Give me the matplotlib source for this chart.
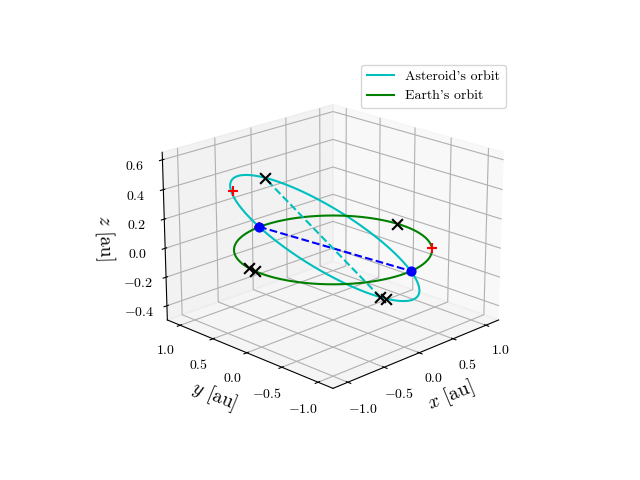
import numpy as np
import matplotlib
matplotlib.use("Agg")
import matplotlib.pyplot as plt

plt.rcParams["font.family"] = "cmr10"
plt.rcParams["mathtext.fontset"] = "cm"
plt.rcParams["axes.formatter.use_mathtext"] = True

# orbital elements of the asteroid (estimated)
a_ast = 1.02
e_ast = 0.14
inc_deg = 33.0
node_deg = 95.0
peri_deg = -92.0
earth_r = 1.0
# argument of latitude (deg) of extra marked asteroid positions
ast_x_u = [263.0]
# Earth longitudes (deg) of black-x positions
earth_x_lon = [3.0, 169.0, 175.0]
# Earth longitude (deg) of red-plus position
earth_plus_lon = [-45.0]
# free red-plus point (x, y, z) in au
extra_plus_x = [-0.8]
extra_plus_y = [0.6]
extra_plus_z = [0.42]

def orbit_pos_u(u, a, e, i, Om, w):
    nu = u - w
    r = a*(1-e**2)/(1+e*np.cos(nu))
    x = r*(np.cos(Om)*np.cos(u) - np.sin(Om)*np.sin(u)*np.cos(i))
    y = r*(np.sin(Om)*np.cos(u) + np.cos(Om)*np.sin(u)*np.cos(i))
    z = r*np.sin(u)*np.sin(i)
    return x, y, z

i = np.radians(inc_deg); Om = np.radians(node_deg); w = np.radians(peri_deg)
pos = lambda u: orbit_pos_u(np.radians(np.asarray(u, float)), a_ast, e_ast, i, Om, w)
ax_, ay_, az_ = pos(np.linspace(0, 360, 400))
th = np.radians(np.linspace(0, 360, 400))
ex, ey, ez = earth_r*np.cos(th), earth_r*np.sin(th), 0*th

fig = plt.figure(figsize=(6.4, 4.8))
ax = fig.add_subplot(projection="3d")
ax.plot(ax_, ay_, az_, color="c", label="Asteroid's orbit")
ax.plot(ex, ey, ez, color="g", label="Earth's orbit")
nx, ny, nz = pos([0, 180])
ax.plot(nx, ny, nz, "b--")
ax.scatter(nx, ny, nz, color="b", s=40, depthshade=False)
ax.scatter(nx[:1], ny[:1], nz[:1], color="r", marker="+", s=60, depthshade=False)
wd = np.degrees(w)
px, py, pz = pos([wd, wd + 180])
ax.plot(px, py, pz, "c--")
ax.scatter(px, py, pz, color="k", marker="x", s=60, depthshade=False)
kx, ky, kz = pos(ast_x_u)
ax.scatter(kx, ky, kz, color="k", marker="x", s=60, depthshade=False)
el = np.radians(earth_x_lon)
ax.scatter(earth_r*np.cos(el), earth_r*np.sin(el), 0*el, color="k", marker="x", s=60, depthshade=False)
pl = np.radians(earth_plus_lon)
ax.scatter(earth_r*np.cos(pl), earth_r*np.sin(pl), 0*pl, color="r", marker="+", s=60, depthshade=False)
ax.scatter(extra_plus_x, extra_plus_y, extra_plus_z, color="r", marker="+", s=60, depthshade=False)

ax.set_xlim(-1.2, 1.2); ax.set_ylim(-1.2, 1.2); ax.set_zlim(-0.5, 0.65)
ax.set_xticks([-1.0, -0.5, 0.0, 0.5, 1.0])
ax.set_yticks([-1.0, -0.5, 0.0, 0.5, 1.0])
ax.set_zticks([-0.4, -0.2, 0.0, 0.2, 0.4, 0.6])
ax.set_xlabel("$x$ [au]", fontsize=14)
ax.set_ylabel("$y$ [au]", fontsize=14)
ax.set_zlabel("$z$ [au]", fontsize=14)
ax.view_init(elev=20, azim=-135)
ax.legend(loc="upper right")
fig.savefig("out.png", dpi=100)
